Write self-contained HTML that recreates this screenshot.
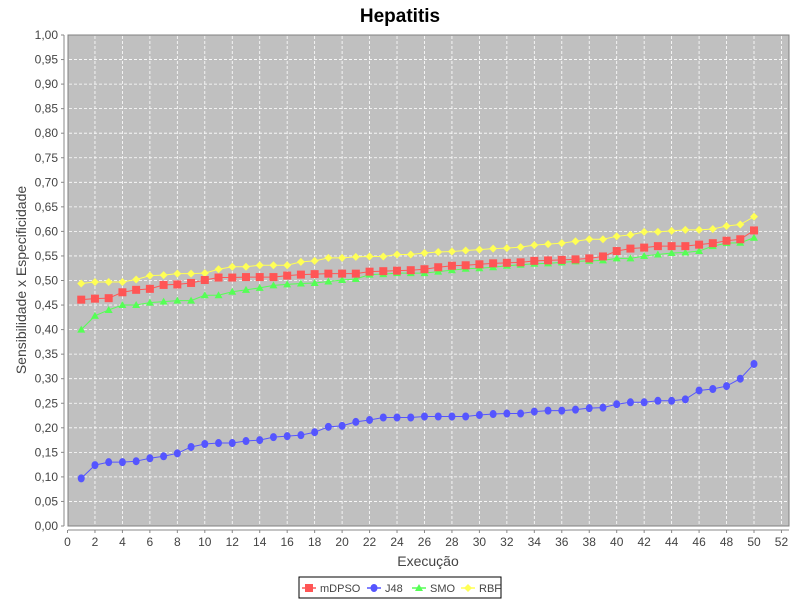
<!DOCTYPE html>
<html><head><meta charset="utf-8"><style>
body{margin:0;background:#fff;width:800px;height:600px;overflow:hidden;font-family:"Liberation Sans","DejaVu Sans",sans-serif;}
</style></head><body>
<svg id="chart" width="800" height="600" xmlns="http://www.w3.org/2000/svg">
<text x="400" y="22" text-anchor="middle" font-size="19" font-weight="bold" fill="#000">Hepatitis</text>
<rect x="68" y="35" width="721" height="491" fill="#c0c0c0" stroke="#808080"/>
<g id="grid"></g><g id="axes"></g><g id="series"></g>
<text x="428" y="566" text-anchor="middle" font-size="14" fill="#444">Execução</text>
<text transform="translate(26,280) rotate(-90)" text-anchor="middle" font-size="14" fill="#444">Sensibilidade x Especificidade</text>
<g>
<rect x="299" y="577" width="202" height="21" fill="#fff" stroke="#000"/>
<g id="legend-items"></g>
</g>
</svg>
<script>
const executions = Array.from({length:50},(_,i)=>i+1);
const mDPSO = [0.461,0.463,0.464,0.476,0.481,0.483,0.491,0.492,0.495,0.501,0.506,0.506,0.507,0.507,0.507,0.510,0.512,0.513,0.514,0.514,0.514,0.518,0.519,0.520,0.521,0.523,0.527,0.530,0.531,0.533,0.535,0.536,0.537,0.540,0.541,0.542,0.543,0.545,0.549,0.560,0.565,0.567,0.570,0.570,0.570,0.573,0.576,0.581,0.584,0.602];
const J48 = [0.097,0.124,0.130,0.130,0.132,0.138,0.142,0.148,0.161,0.167,0.169,0.169,0.173,0.175,0.181,0.183,0.185,0.191,0.202,0.204,0.212,0.216,0.221,0.221,0.221,0.223,0.223,0.223,0.223,0.226,0.228,0.229,0.229,0.233,0.235,0.235,0.237,0.240,0.241,0.248,0.252,0.252,0.255,0.255,0.258,0.276,0.279,0.285,0.300,0.330];
const SMO = [0.400,0.428,0.440,0.450,0.450,0.455,0.457,0.459,0.459,0.470,0.470,0.477,0.481,0.485,0.490,0.492,0.494,0.495,0.498,0.501,0.503,0.512,0.513,0.515,0.515,0.515,0.518,0.521,0.524,0.525,0.527,0.530,0.532,0.534,0.535,0.537,0.539,0.540,0.541,0.545,0.545,0.550,0.553,0.556,0.557,0.560,0.570,0.576,0.577,0.587];
const RBF = [0.494,0.497,0.497,0.497,0.502,0.510,0.511,0.514,0.514,0.515,0.523,0.528,0.528,0.531,0.531,0.531,0.538,0.540,0.546,0.546,0.548,0.549,0.549,0.553,0.553,0.556,0.558,0.559,0.561,0.563,0.565,0.566,0.568,0.572,0.574,0.576,0.580,0.584,0.584,0.590,0.593,0.599,0.599,0.601,0.603,0.603,0.605,0.611,0.614,0.630];
const xTicks = [0,2,4,6,8,10,12,14,16,18,20,22,24,26,28,30,32,34,36,38,40,42,44,46,48,50,52];
const yTicks = [0,0.05,0.1,0.15,0.2,0.25,0.3,0.35,0.4,0.45,0.5,0.55,0.6,0.65,0.7,0.75,0.8,0.85,0.9,0.95,1.0];
const NS='http://www.w3.org/2000/svg';
const X=v=>67.5+v*13.73, Y=v=>526-v*491;
function mk(t,a,p){const e=document.createElementNS(NS,t);for(const k in a)e.setAttribute(k,a[k]);p.appendChild(e);return e;}
const grid=document.getElementById('grid'),axes=document.getElementById('axes'),ser=document.getElementById('series');
mk('line',{x1:64,y1:35,x2:64,y2:526,stroke:'#888'},axes);
mk('line',{x1:68,y1:530,x2:789,y2:530,stroke:'#888'},axes);
xTicks.forEach(v=>{
 if(v>0){const g=mk('line',{x1:X(v),y1:36,x2:X(v),y2:525,stroke:'#fff','stroke-dasharray':'3,2','stroke-width':0.8},grid);
 }
 mk('line',{x1:X(v),y1:530,x2:X(v),y2:533,stroke:'#888'},axes);
 const t=mk('text',{x:X(v),y:546,'text-anchor':'middle','font-size':12,fill:'#444'},axes);t.textContent=v;
 
});
yTicks.forEach(v=>{
 if(v>0&&v<1){const g=mk('line',{x1:69,y1:Y(v),x2:788,y2:Y(v),stroke:'#fff','stroke-dasharray':'3,2','stroke-width':0.8},grid);
 }
 mk('line',{x1:61,y1:Y(v),x2:64,y2:Y(v),stroke:'#888'},axes);
 const t=mk('text',{x:58,y:Y(v)+4,'text-anchor':'end','font-size':12,fill:'#444'},axes);t.textContent=v.toFixed(2).replace('.',',');
 
});
function marker(shape,x,y,c,p){
 if(shape==='sq')return mk('rect',{x:x-4,y:y-4,width:8,height:8,fill:c},p);
 if(shape==='ci')return mk('ellipse',{cx:x,cy:y,rx:3.5,ry:4,fill:c},p);
 if(shape==='tr')return mk('polygon',{points:`${x},${y-4} ${x+4},${y+3} ${x-4},${y+3}`,fill:c},p);
 return mk('polygon',{points:`${x},${y-4} ${x+4},${y} ${x},${y+4} ${x-4},${y}`,fill:c},p);
}
const defs=[['mDPSO',mDPSO,'#ff5555','sq'],['J48',J48,'#5555ff','ci'],['SMO',SMO,'#55ff55','tr'],['RBF',RBF,'#ffff55','di']];
[3,2,0,1].forEach(i=>{const [n,d,c,s]=defs[i];
 const g=mk('g',{},ser);
 mk('polyline',{points:d.map((v,j)=>X(executions[j])+','+Y(v)).join(' '),fill:'none',stroke:c,'stroke-width':1},g);
 d.forEach((v,j)=>{const m=marker(s,X(executions[j]),Y(v),c,g);});
});
const li=document.getElementById('legend-items');const lx=[302,367,412,461];
defs.forEach(([n,d,c,s],i)=>{const g=mk('g',{},li);
 mk('line',{x1:lx[i],y1:588,x2:lx[i]+14,y2:588,stroke:c,'stroke-width':1.5},g);marker(s,lx[i]+7,588,c,g);
 const t=mk('text',{x:lx[i]+18,y:592,'font-size':11,fill:'#444'},g);t.textContent=n;});
</script>
</body></html>
